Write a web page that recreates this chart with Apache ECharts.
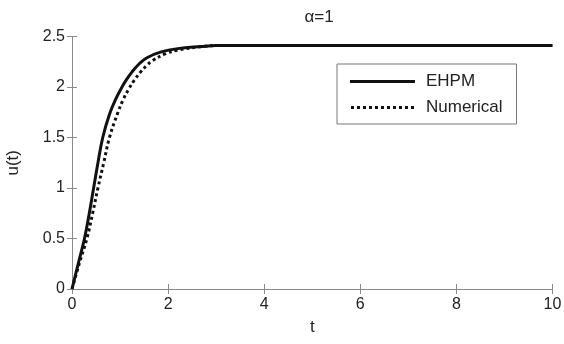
<!DOCTYPE html>
<html>
<head>
<meta charset="utf-8">
<script src="https://cdn.jsdelivr.net/npm/echarts@6/dist/echarts.min.js"></script>
<style>
html,body{margin:0;padding:0;background:#fff;}
#chart{width:564px;height:344px;}
</style>
</head>
<body>
<div id="chart"></div>
<script>
// Data
var titleText = 'α=1';
var seriesNames = ['EHPM', 'Numerical'];
var ehpmT = [0, 0.13, 0.26, 0.36, 0.45, 0.54, 0.64, 0.78, 0.9, 1.03, 1.13, 1.25, 1.4, 1.56, 1.84, 2.2, 2.68, 3.0, 10];
var ehpmU = [0, 0.25, 0.5, 0.75, 1.0, 1.25, 1.5, 1.73, 1.87, 1.99, 2.07, 2.15, 2.23, 2.29, 2.345, 2.38, 2.40, 2.41, 2.41];
var numT = [0, 0.15, 0.31, 0.43, 0.54, 0.66, 0.78, 0.95, 1.06, 1.18, 1.3, 1.43, 1.55, 1.67, 1.95, 2.2, 2.7, 3.0, 10];
var numU = [0, 0.25, 0.5, 0.75, 1.0, 1.25, 1.5, 1.74, 1.87, 1.98, 2.07, 2.15, 2.21, 2.26, 2.33, 2.365, 2.40, 2.41, 2.41];
var xTicks = [0, 2, 4, 6, 8, 10];
var yTicks = [0, 0.5, 1, 1.5, 2, 2.5];

function pairs(xs, ys) { return xs.map(function (x, i) { return [x, ys[i]]; }); }

var font = 'Liberation Sans, Arial, sans-serif';
var axisCol = '#8a8a8a';
var solidIcon = 'path://M0,0L65,0L65,3L0,3Z';
var dotIcon = 'path://';
for (var k = 0; k < 11; k++) { var x0 = k * 6; dotIcon += 'M' + x0 + ',0L' + (x0 + 3) + ',0L' + (x0 + 3) + ',3L' + x0 + ',3Z'; }

var chart = echarts.init(document.getElementById('chart'));
var baseAxis = {
  axisLine: { show: true, lineStyle: { color: axisCol, width: 1 } },
  axisTick: { show: true, inside: true, length: 5, lineStyle: { color: axisCol } },
  splitLine: { show: false }
};
chart.setOption({
  animation: false,
  backgroundColor: '#fff',
  title: {
    text: titleText, left: 314, top: 4, textAlign: 'center',
    textStyle: { fontFamily: font, fontSize: 17, fontWeight: 'normal', color: '#222' }
  },
  grid: { left: 72, right: 11.5, top: 36.5, bottom: 55, containLabel: false, outerBoundsMode: 'none' },
  legend: {
    orient: 'vertical', left: 337, top: 64,
    padding: [9, 14, 8, 13], itemGap: 9,
    itemWidth: 65, itemHeight: 3,
    borderColor: '#777', borderWidth: 1, backgroundColor: '#fff',
    textStyle: { fontFamily: font, fontSize: 17, color: '#222', padding: [0, 0, 0, 6], lineHeight: 16 },
    data: [
      { name: seriesNames[0], icon: solidIcon, itemStyle: { color: '#111' } },
      { name: seriesNames[1], icon: dotIcon, itemStyle: { color: '#111' } }
    ]
  },
  xAxis: [
    Object.assign({}, baseAxis, {
      type: 'value', min: xTicks[0], max: xTicks[xTicks.length - 1], interval: 2,
      name: 't', nameLocation: 'middle', nameGap: 30,
      nameTextStyle: { fontFamily: font, fontSize: 17, color: '#222' },
      axisLabel: { fontFamily: font, fontSize: 16, color: '#222', margin: 8 }
    }),
    Object.assign({}, baseAxis, {
      type: 'value', position: 'top', min: 0, max: 10, interval: 2,
      axisLabel: { show: false }
    })
  ],
  yAxis: [
    Object.assign({}, baseAxis, {
      type: 'value', min: yTicks[0], max: yTicks[yTicks.length - 1], interval: 0.5,
      name: 'u(t)', nameLocation: 'middle', nameGap: 50, nameRotate: 90,
      nameTextStyle: { fontFamily: font, fontSize: 17, color: '#222' },
      axisLabel: { fontFamily: font, fontSize: 16, color: '#222', margin: 7 }
    }),
    Object.assign({}, baseAxis, {
      type: 'value', position: 'right', min: 0, max: 2.5, interval: 0.5,
      axisLabel: { show: false }
    })
  ],
  series: [
    {
      name: seriesNames[0], type: 'line', data: pairs(ehpmT, ehpmU), smooth: 0.4,
      symbol: 'none', color: '#111',
      lineStyle: { color: '#111', width: 3, type: 'solid' }
    },
    {
      name: seriesNames[1], type: 'line', data: pairs(numT, numU), smooth: 0.4,
      symbol: 'none', color: '#111',
      lineStyle: { color: '#111', width: 3, type: [3, 3] }
    }
  ]
});
</script>
</body>
</html>
